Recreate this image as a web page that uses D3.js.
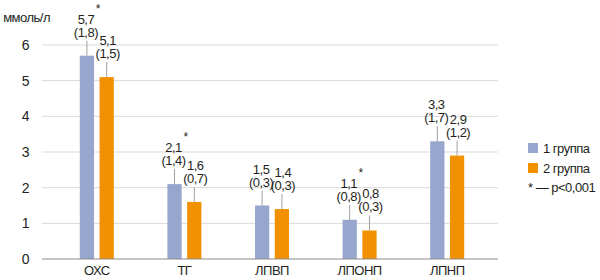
<!DOCTYPE html>
<html>
<head>
<meta charset="utf-8">
<script src="https://cdn.jsdelivr.net/npm/d3@7"></script>
<style>
  html, body { margin: 0; padding: 0; background: #fff; }
  svg text { font-family: "Liberation Sans", Arial, sans-serif; fill: #231f20; letter-spacing: -0.5px; }
</style>
</head>
<body>
<svg id="chart" width="600" height="280"></svg>
<script>
// данные
const categories = ['ОХС', 'ТГ', 'ЛПВП', 'ЛПОНП', 'ЛПНП'];
const groups = ['1 группа', '2 группа'];
const group1 = [5.7, 2.1, 1.5, 1.1, 3.3];
const group2 = [5.1, 1.6, 1.4, 0.8, 2.9];
const sd1 = ['1,8', '1,4', '0,3', '0,8', '1,7'];
const sd2 = ['1,5', '0,7', '0,3', '0,3', '1,2'];
const signif = [true, true, false, true, false];   // * у 1 группы
const yTicks = [0, 1, 2, 3, 4, 5, 6];
const colors = ['#97a6cc', '#f29100'];

const svg = d3.select('#chart');
const fmt = v => v.toFixed(1).replace('.', ',');

const x = d3.scaleBand().domain(categories).range([53, 491]);
const xg = d3.scaleBand().domain(groups).range([0, 34]).paddingInner(0.28);
const y = d3.scaleLinear().domain([0, 6]).range([259, 45]);

// сетка
svg.append('g').selectAll('line').data(yTicks.filter(d => d > 0)).enter().append('line')
    .attr('x1', 42).attr('x2', 498)
    .attr('y1', d => y(d)).attr('y2', d => y(d))
    .attr('stroke', '#d9d9d9').attr('stroke-width', 1);

// подписи оси Y
svg.append('g').selectAll('text').data(yTicks).enter().append('text')
    .attr('x', 29).attr('y', d => y(d) + 5)
    .attr('text-anchor', 'end').style('font-size', '14px')
    .text(d => d);

svg.append('text').attr('x', 50).attr('y', 22)
    .attr('text-anchor', 'end').style('font-size', '13px').text('ммоль/л');

// столбцы
const rows = categories.map((c, i) => ({
    cat: c,
    vals: [
        { g: groups[0], v: group1[i], sd: sd1[i], star: signif[i], k: 0 },
        { g: groups[1], v: group2[i], sd: sd2[i], star: false, k: 1 }
    ]
}));

const cat = svg.append('g').selectAll('g').data(rows).enter().append('g')
    .attr('transform', d => `translate(${x(d.cat) + x.bandwidth() / 2 - 17},0)`);

const bar = cat.selectAll('g').data(d => d.vals).enter().append('g');
const cx = d => xg(d.g) + xg.bandwidth() / 2;

bar.append('rect')
    .attr('x', d => xg(d.g)).attr('width', xg.bandwidth())
    .attr('y', d => y(d.v)).attr('height', d => y(0) - y(d.v))
    .attr('fill', d => colors[d.k]);

// выноски
bar.append('line')
    .attr('x1', cx).attr('x2', cx)
    .attr('y1', d => y(d.v)).attr('y2', d => y(d.v) - 15)
    .attr('stroke', '#a0a0a0').attr('stroke-width', 1);

bar.append('text')
    .attr('x', d => cx(d) - (d.k === 0 ? 1 : -1)).attr('y', d => y(d.v) - 19)
    .attr('text-anchor', 'middle').style('font-size', '13px')
    .text(d => `(${d.sd})`);

bar.append('text')
    .attr('x', d => cx(d) - (d.k === 0 ? 1 : -1)).attr('y', d => y(d.v) - 32)
    .attr('text-anchor', 'middle').style('font-size', '13px')
    .text(d => fmt(d.v));

bar.filter(d => d.star).append('text')
    .attr('x', d => cx(d) + 11).attr('y', d => y(d.v) - 43)
    .attr('text-anchor', 'middle').style('font-size', '12px')
    .text('*');

// ось X
svg.append('line').attr('x1', 42).attr('x2', 498).attr('y1', y(0)).attr('y2', y(0))
    .attr('stroke', '#8c8c8c').attr('stroke-width', 1.2);

svg.append('g').selectAll('text').data(categories).enter().append('text')
    .attr('x', d => x(d) + x.bandwidth() / 2).attr('y', 275)
    .attr('text-anchor', 'middle').style('font-size', '13px')
    .text(d => d);

// легенда
const leg = svg.append('g').attr('transform', 'translate(528,143)');
groups.forEach((g, i) => {
    leg.append('rect').attr('x', 0).attr('y', i * 20).attr('width', 10).attr('height', 10)
        .attr('fill', colors[i]);
    leg.append('text').attr('x', 15).attr('y', i * 20 + 10)
        .style('font-size', '13px').text(g);
});
leg.append('text').attr('x', 0).attr('y', 49).style('font-size', '13px').text('* — p<0,001');
</script>
</body>
</html>
